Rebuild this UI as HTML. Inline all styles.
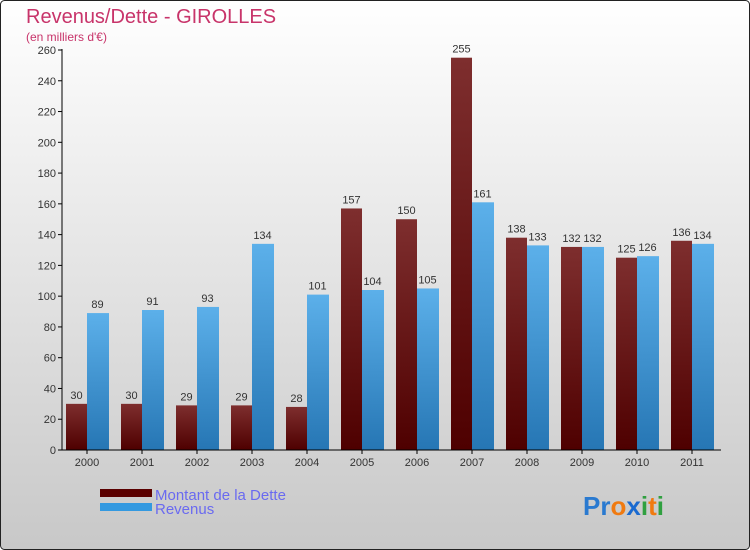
<!DOCTYPE html>
<html><head><meta charset="utf-8"><style>
body{margin:0;}
svg{display:block;font-family:"Liberation Sans",sans-serif;}
</style></head><body>
<svg id="c" width="750" height="550">
<defs>
<linearGradient id="bg" x1="0" y1="0" x2="0" y2="1"><stop offset="0" stop-color="#ffffff"/><stop offset="1" stop-color="#c8c8c8"/></linearGradient>
<linearGradient id="gd" x1="0" y1="0" x2="0" y2="1"><stop offset="0" stop-color="#7e2e2e"/><stop offset="1" stop-color="#4e0000"/></linearGradient>
<linearGradient id="gr" x1="0" y1="0" x2="0" y2="1"><stop offset="0" stop-color="#5cb0ea"/><stop offset="1" stop-color="#2676b4"/></linearGradient>
</defs>
<rect x="0.5" y="0.5" width="749" height="549" rx="4" fill="url(#bg)" stroke="#222"/>
<text x="26" y="23" font-size="20" fill="#c8346a">Revenus/Dette - GIROLLES</text>
<text x="26" y="41" font-size="12" fill="#c8346a">(en milliers d'€)</text>
<g id="plot"></g>
<rect x="100" y="489" width="52" height="8" fill="#5a0000"/>
<text x="155" y="500" font-size="15" fill="#6a6af0">Montant de la Dette</text>
<rect x="100" y="503" width="52" height="8" fill="#3399e0"/>
<text x="155" y="514" font-size="15" fill="#6a6af0">Revenus</text>
<text x="583" y="515" font-size="26" font-weight="bold"><tspan fill="#2a7ad0">Pr</tspan><tspan fill="#f07a10">o</tspan><tspan fill="#1a6ad0">x</tspan><tspan fill="#30a040">i</tspan><tspan fill="#f07a10">t</tspan><tspan fill="#30a040">i</tspan></text>
</svg>
<script>
const years=["2000","2001","2002","2003","2004","2005","2006","2007","2008","2009","2010","2011"];
const dette=[30,30,29,29,28,157,150,255,138,132,125,136];
const revenus=[89,91,93,134,101,104,105,161,133,132,126,134];
const ticks=[0,20,40,60,80,100,120,140,160,180,200,220,240,260];
const NS="http://www.w3.org/2000/svg";
const g=document.getElementById('plot');
const y0=450,ymax=260,ph=400,left=62,right=721,x0=87,step=55,bw=21;
const Y=v=>y0-v*ph/ymax;
const X=i=>x0+i*step;
function el(t,a,txt){const e=document.createElementNS(NS,t);for(const k in a)e.setAttribute(k,a[k]);if(txt!=null)e.textContent=txt;g.appendChild(e);return e;}
ticks.forEach(t=>{
 const l=el('line',{x1:left-4,x2:left,y1:Y(t),y2:Y(t),stroke:'#000'});
 
 
 const tx=el('text',{x:left-6,y:Y(t)+4,'font-size':11,'text-anchor':'end',fill:'#333'},t);
 
 
});
years.forEach((yr,i)=>{
 const cx=X(i);
 const a=el('rect',{x:cx-bw,y:Y(dette[i]),width:bw,height:y0-Y(dette[i]),fill:'url(#gd)'});
 
 
 const b=el('rect',{x:cx,y:Y(revenus[i]),width:bw+1,height:y0-Y(revenus[i]),fill:'url(#gr)'});
 
 
 const la=el('text',{x:cx-bw/2,y:Y(dette[i])-5,'font-size':11,'text-anchor':'middle',fill:'#333'},dette[i]);
 
 
 const lb=el('text',{x:cx+bw/2,y:Y(revenus[i])-5,'font-size':11,'text-anchor':'middle',fill:'#333'},revenus[i]);
 
 
 const tk=el('line',{x1:cx,x2:cx,y1:y0,y2:y0+4,stroke:'#000'});
 
 
 const xl=el('text',{x:cx,y:y0+16,'font-size':11,'text-anchor':'middle',fill:'#333'},yr);
 
 
});
const ya=el('line',{x1:left,x2:left,y1:Y(260)-1,y2:y0,stroke:'#000'});


const xa=el('line',{x1:left,x2:right,y1:y0,y2:y0,stroke:'#000'});


</script>
</body></html>
